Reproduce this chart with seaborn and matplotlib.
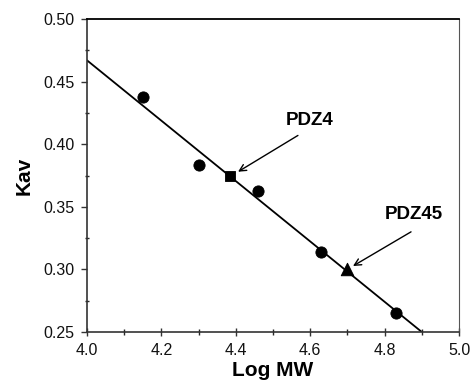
import numpy as np
import pandas as pd
import matplotlib
matplotlib.use("Agg")
import matplotlib.pyplot as plt
from matplotlib.ticker import MultipleLocator
import seaborn as sns

# Calibration standards (circles)
std_logmw = [4.15, 4.30, 4.46, 4.63, 4.83]
std_kav = [0.438, 0.383, 0.363, 0.314, 0.265]

# Unknowns
pdz4_logmw, pdz4_kav = 4.385, 0.375
pdz45_logmw, pdz45_kav = 4.70, 0.300

# Fitted calibration line endpoints
fit_logmw = [4.0, 4.9]
fit_kav = [0.467, 0.250]

sns.set_style("ticks")
plt.rcParams['font.family'] = ['Liberation Sans', 'DejaVu Sans']
plt.rcParams['text.color'] = 'black'
plt.rcParams['axes.labelcolor'] = 'black'
plt.rcParams['xtick.labelcolor'] = '#111111'
plt.rcParams['ytick.labelcolor'] = '#111111'

fig = plt.figure(figsize=(4.72, 3.91), dpi=100)
ax = fig.add_axes([0.1843, 0.1509, 0.7882, 0.8005])

sns.lineplot(x=fit_logmw, y=fit_kav, ax=ax, color='black', linewidth=1.3)
sns.scatterplot(x=std_logmw, y=std_kav, ax=ax, marker='o', s=65,
                color='black', edgecolor='black', zorder=3)
sns.scatterplot(x=[pdz4_logmw], y=[pdz4_kav], ax=ax, marker='s', s=60,
                color='black', edgecolor='black', zorder=3)
sns.scatterplot(x=[pdz45_logmw], y=[pdz45_kav], ax=ax, marker='^', s=80,
                color='black', edgecolor='black', zorder=3)

# labels and arrows
arrow = dict(arrowstyle='->', color='black', lw=1, shrinkA=0, shrinkB=0,
             mutation_scale=12)
ax.text(4.599, 0.419, 'PDZ4', ha='center', va='center',
        fontsize=13.5, fontweight='bold')
ax.annotate('', xy=(4.406, 0.378), xytext=(4.567, 0.407), arrowprops=arrow)
ax.text(4.879, 0.3435, 'PDZ45', ha='center', va='center',
        fontsize=13.5, fontweight='bold')
ax.annotate('', xy=(4.715, 0.3027), xytext=(4.871, 0.330), arrowprops=arrow)

ax.set_xlim(4.0, 5.0)
ax.set_ylim(0.25, 0.50)
ax.xaxis.set_major_locator(MultipleLocator(0.2))
ax.xaxis.set_minor_locator(MultipleLocator(0.1))
ax.yaxis.set_major_locator(MultipleLocator(0.05))
ax.yaxis.set_minor_locator(MultipleLocator(0.025))
ax.xaxis.set_major_formatter(plt.FormatStrFormatter('%.1f'))
ax.yaxis.set_major_formatter(plt.FormatStrFormatter('%.2f'))

ax.tick_params(axis='both', which='major', labelsize=11.5, length=4,
               width=1, color='#333333', pad=5)
ax.tick_params(axis='x', which='major', direction='inout', length=6)
ax.tick_params(axis='x', which='minor', direction='inout', length=4, width=1)
ax.tick_params(axis='y', which='minor', direction='inout', length=3, width=1)

for side in ['left', 'bottom']:
    ax.spines[side].set_linewidth(1.2)
    ax.spines[side].set_color('#333333')
ax.spines['top'].set_linewidth(1.3)
ax.spines['top'].set_color('black')
ax.spines['right'].set_linewidth(0.8)
ax.spines['right'].set_color('#555555')

ax.set_xlabel('Log MW', fontsize=15, fontweight='bold', labelpad=2)
ax.set_ylabel('Kav', fontsize=15, fontweight='bold', labelpad=7)

fig.savefig('out.png', dpi=100)
